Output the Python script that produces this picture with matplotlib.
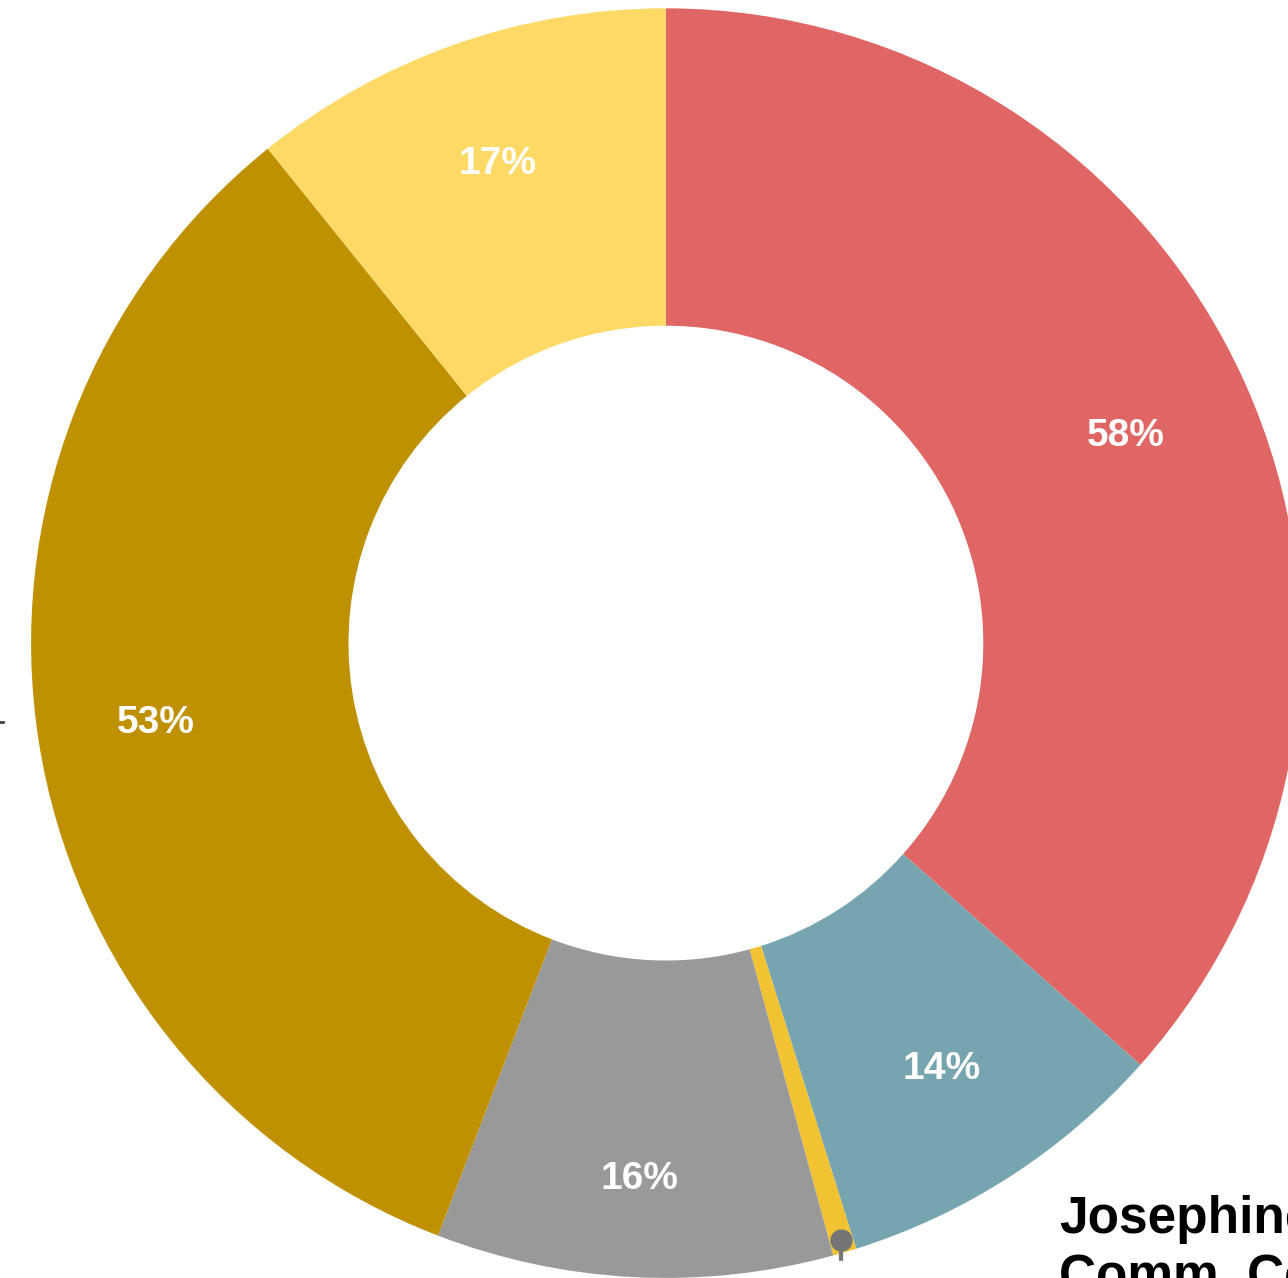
import matplotlib.pyplot as plt
import numpy as np

plt.rcParams['font.family'] = ['Liberation Sans', 'DejaVu Sans']

# slice shares (clockwise from 12 o'clock)
shares = [36.6, 8.6, 0.6, 10.1, 33.4, 10.8]
labels = ["58%", "14%", "", "16%", "53%", "17%"]
colors = ["#E06666", "#76A5AF", "#F1C232", "#999999", "#BF9000", "#FFD966"]
callout = "Josephine\nComm. Center"

# how far out each label sits (fraction of outer radius)
label_r = [0.795, 0.8, 0.8, 0.846, 0.814, 0.8]

fig = plt.figure(figsize=(12.88, 12.78), dpi=100)
ax = fig.add_axes([0, 0, 1, 1])

wedges, _ = ax.pie(shares, colors=colors, startangle=90, counterclock=False,
                   radius=1.0, wedgeprops=dict(width=0.5, linewidth=0))

# percentage labels in the ring
for w, lab, r in zip(wedges, labels, label_r):
    if not lab:
        continue
    ang = np.deg2rad((w.theta1 + w.theta2) / 2)
    ax.text(r * np.cos(ang), r * np.sin(ang), lab, color="white",
            fontsize=28, fontweight="bold", ha="center", va="center")

# leader for the thin slice
w = wedges[2]
ang = np.deg2rad((w.theta1 + w.theta2) / 2)
px, py = 0.98 * np.cos(ang), 0.98 * np.sin(ang)
ax.plot([px, px], [py, py - 0.2], color="#757575", lw=3,
        dashes=(5, 5), solid_capstyle="butt")
ax.plot(px, py, "o", color="#757575", ms=15)
ax.text(0.619, -0.870, callout, fontsize=37, fontweight="bold",
        ha="left", va="top", linespacing=1.25, color="black")

# end of a leader line poking in at the left edge
ax.plot([-1.049, -1.044], [-0.124, -0.124], color="#444444", lw=2)

ax.set_xlim(-1.049, 0.980)
ax.set_ylim(-1.0, 1.013)
ax.axis("off")

fig.savefig("out.png", dpi=100)
